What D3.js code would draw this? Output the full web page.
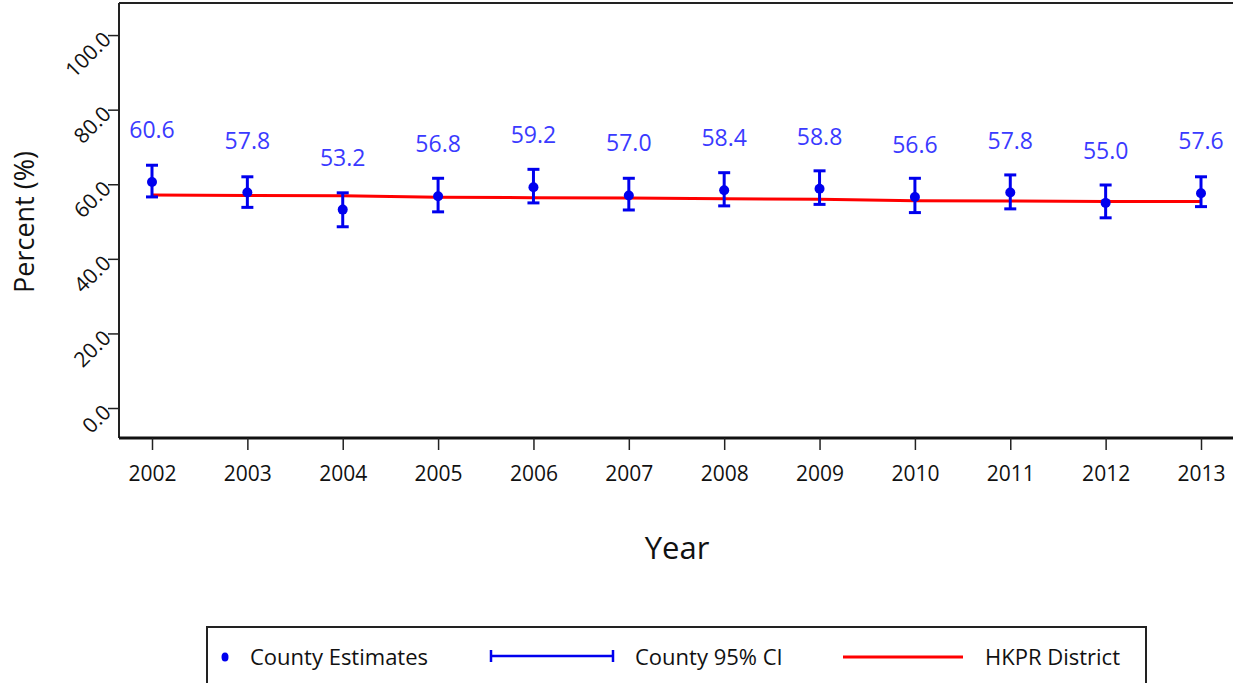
<!DOCTYPE html>
<html>
<head>
<meta charset="utf-8">
<script src="https://cdn.jsdelivr.net/npm/d3@7"></script>
<style>
  body { margin: 0; background: #fff; }
  text { font-family: "Open Sans", "Noto Sans", sans-serif; }
</style>
</head>
<body>
<div id="chart"></div>
<script>
var years = [2002, 2003, 2004, 2005, 2006, 2007, 2008, 2009, 2010, 2011, 2012, 2013]
var estimates = [60.6, 57.8, 53.2, 56.8, 59.2, 57.0, 58.4, 58.8, 56.6, 57.8, 55.0, 57.6]
var ciUpper = [65.1, 62.0, 57.7, 61.6, 64.0, 61.6, 63.1, 63.6, 61.6, 62.5, 59.8, 62.0]
var ciLower = [56.6, 53.8, 48.6, 52.6, 55.0, 53.1, 54.2, 54.6, 52.4, 53.4, 51.0, 54.0]
var district = [57.1, 57.0, 56.9, 56.5, 56.4, 56.3, 56.1, 56.0, 55.6, 55.5, 55.4, 55.4]
var yTicks = [0, 20, 40, 60, 80, 100]

var width = 1233
var height = 683
var plotLeft = 119, plotTop = 3, plotRight = 1233, plotBottom = 438

var svg = d3.select("#chart")
  .append("svg")
    .attr("width", width)
    .attr("height", height)

var x = d3.scaleLinear()
  .domain([2002, 2013])
  .range([152, 1201])

var y = d3.scaleLinear()
  .domain([-8.04, 108.6])
  .range([plotBottom, plotTop])

var data = years.map(function(d, i) {
  return { year: d, value: estimates[i], hi: ciUpper[i], lo: ciLower[i], dist: district[i] }
})

// top frame line
svg.append("line")
  .attr("x1", plotLeft).attr("x2", plotRight)
  .attr("y1", plotTop).attr("y2", plotTop)
  .attr("stroke", "#222").attr("stroke-width", 2)

// y axis
var yAxis = svg.append("g")
  .attr("transform", "translate(" + plotLeft + ",0)")
  .call(d3.axisLeft(y).tickValues(yTicks).tickSize(11).tickFormat(d3.format(".1f")))
yAxis.select(".domain").attr("stroke", "#222").attr("stroke-width", 2)
  .attr("d", "M0," + plotTop + "V" + plotBottom)
yAxis.selectAll(".tick line").attr("stroke", "#222").attr("stroke-width", 1.5)
yAxis.selectAll(".tick text")
  .attr("font-size", 21)
  .attr("fill", "#111")
  .attr("x", -12)
  .attr("dy", "0.35em")
  .attr("text-anchor", "end")
  .attr("transform", "rotate(-45,-12,0)")

// x axis
var xAxis = svg.append("g")
  .attr("transform", "translate(0," + plotBottom + ")")
  .call(d3.axisBottom(x).tickValues(years).tickSize(12).tickFormat(d3.format("d")))
xAxis.select(".domain").attr("stroke", "#111").attr("stroke-width", 3)
  .attr("d", "M" + plotLeft + ",0H" + plotRight)
xAxis.selectAll(".tick line").attr("stroke", "#222").attr("stroke-width", 1.5)
xAxis.selectAll(".tick text")
  .attr("font-size", 21)
  .attr("fill", "#111")
  .attr("y", 28)

// district line
var line = d3.line()
  .x(function(d) { return x(d.year) })
  .y(function(d) { return y(d.dist) })

svg.append("path")
  .datum(data)
  .attr("d", line)
  .attr("fill", "none")
  .attr("stroke", "#ff0000")
  .attr("stroke-width", 3)

// CI bars
var ci = svg.selectAll("g.ci")
  .data(data)
  .enter()
  .append("g")
  .attr("class", "ci")
  .attr("stroke", "#0000ee")
  .attr("stroke-width", 3)

ci.append("line")
  .attr("x1", function(d) { return x(d.year) })
  .attr("x2", function(d) { return x(d.year) })
  .attr("y1", function(d) { return y(d.hi) })
  .attr("y2", function(d) { return y(d.lo) })
ci.append("line")
  .attr("x1", function(d) { return x(d.year) - 6 })
  .attr("x2", function(d) { return x(d.year) + 6 })
  .attr("y1", function(d) { return y(d.hi) })
  .attr("y2", function(d) { return y(d.hi) })
ci.append("line")
  .attr("x1", function(d) { return x(d.year) - 6 })
  .attr("x2", function(d) { return x(d.year) + 6 })
  .attr("y1", function(d) { return y(d.lo) })
  .attr("y2", function(d) { return y(d.lo) })

// estimates
svg.selectAll("circle.est")
  .data(data)
  .enter()
  .append("circle")
  .attr("class", "est")
  .attr("cx", function(d) { return x(d.year) })
  .attr("cy", function(d) { return y(d.value) })
  .attr("r", 5)
  .attr("fill", "#0000ee")

// value labels
svg.selectAll("text.val")
  .data(data)
  .enter()
  .append("text")
  .attr("class", "val")
  .attr("x", function(d) { return x(d.year) })
  .attr("y", function(d) { return y(d.value) - 52 })
  .attr("dy", "0.35em")
  .attr("text-anchor", "middle")
  .attr("font-size", 23)
  .attr("fill", "#3a3aff")
  .text(function(d) { return d3.format(".1f")(d.value) })

// axis titles
svg.append("text")
  .attr("transform", "translate(25,222) rotate(-90)")
  .attr("text-anchor", "middle")
  .attr("dy", "0.35em")
  .attr("font-size", 27)
  .attr("fill", "#111")
  .text("Percent (%)")

svg.append("text")
  .attr("x", 677)
  .attr("y", 548)
  .attr("dy", "0.35em")
  .attr("text-anchor", "middle")
  .attr("font-size", 31)
  .attr("fill", "#111")
  .text("Year")

// legend
var legend = svg.append("g")
svg.append("rect")
  .attr("x", 207).attr("y", 627)
  .attr("width", 939).attr("height", 70)
  .attr("fill", "none")
  .attr("stroke", "#222")
  .attr("stroke-width", 2)

legend.append("ellipse")
  .attr("cx", 225).attr("cy", 657)
  .attr("rx", 3.5).attr("ry", 4.5)
  .attr("fill", "#0000ee")
legend.append("text").attr("x", 250).attr("y", 657).attr("dy", "0.35em")
  .attr("font-size", 22).attr("fill", "#111").text("County Estimates")

legend.append("line")
  .attr("x1", 491).attr("x2", 613).attr("y1", 656).attr("y2", 656)
  .attr("stroke", "#0000ee").attr("stroke-width", 2.5)
legend.append("line")
  .attr("x1", 491).attr("x2", 491).attr("y1", 650).attr("y2", 662)
  .attr("stroke", "#0000ee").attr("stroke-width", 2.5)
legend.append("line")
  .attr("x1", 613).attr("x2", 613).attr("y1", 650).attr("y2", 662)
  .attr("stroke", "#0000ee").attr("stroke-width", 2.5)
legend.append("text").attr("x", 635).attr("y", 657).attr("dy", "0.35em")
  .attr("font-size", 22).attr("fill", "#111").text("County 95% CI")

legend.append("line")
  .attr("x1", 843).attr("x2", 963).attr("y1", 657).attr("y2", 657)
  .attr("stroke", "#ff0000").attr("stroke-width", 3)
legend.append("text").attr("x", 985).attr("y", 657).attr("dy", "0.35em")
  .attr("font-size", 22).attr("fill", "#111").text("HKPR District")
</script>
</body>
</html>
